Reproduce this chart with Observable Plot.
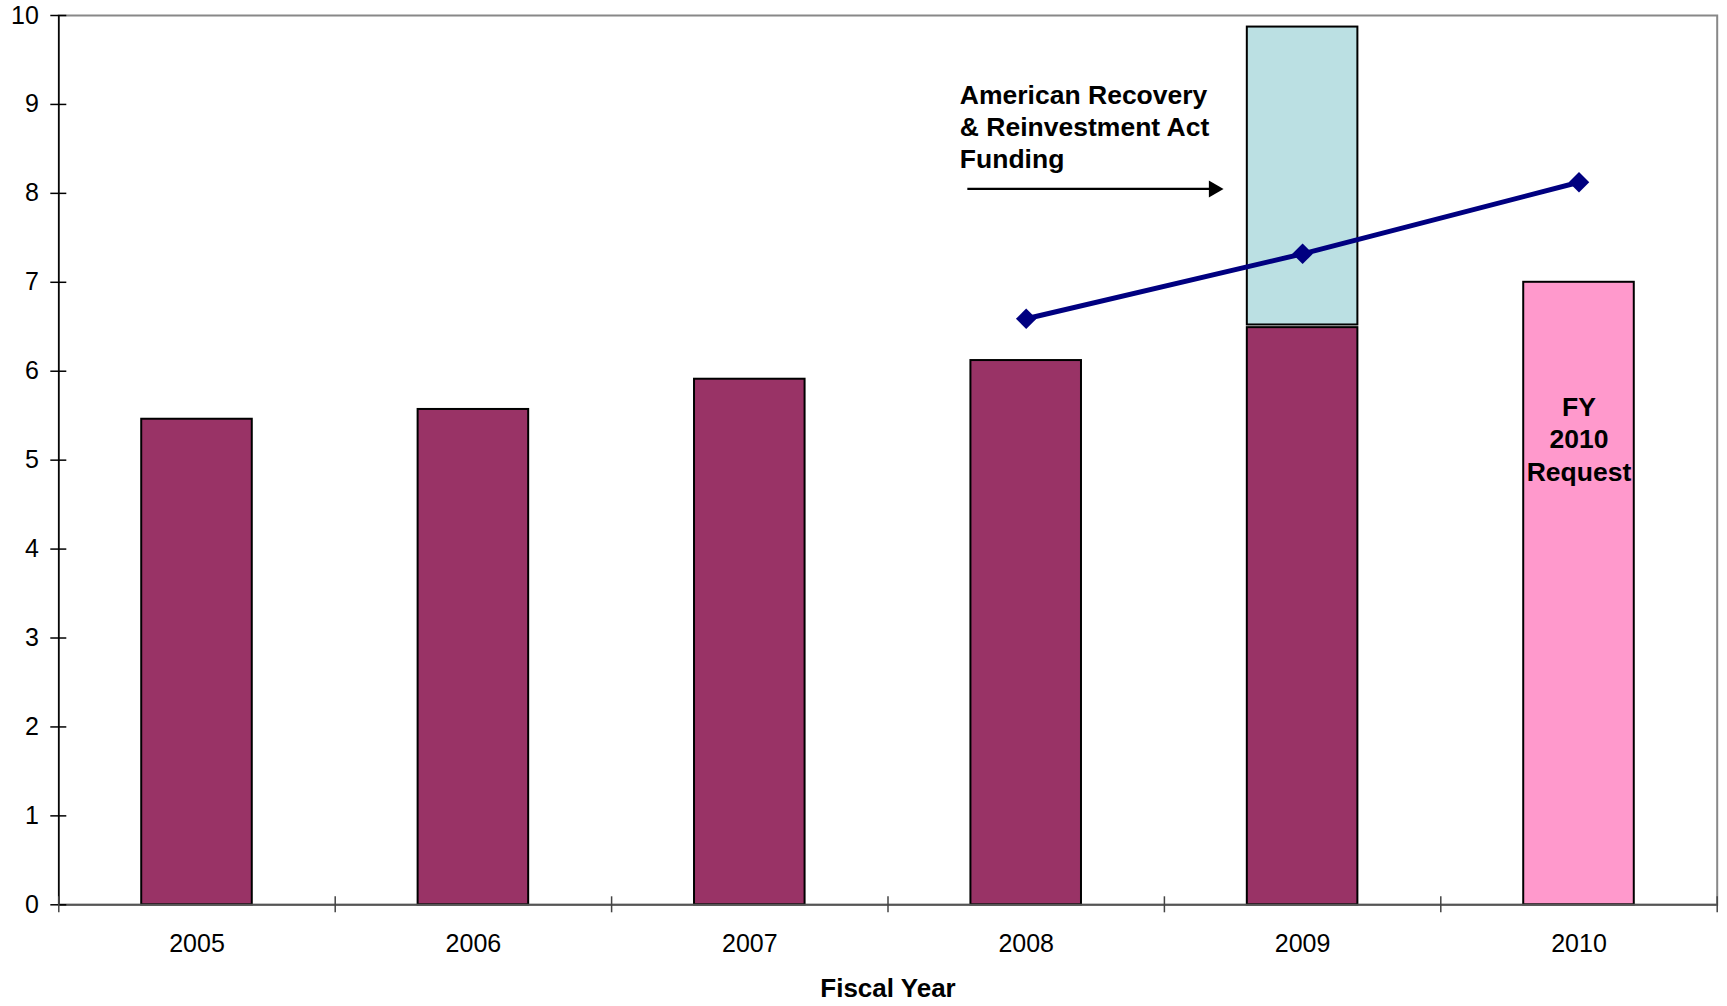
<!DOCTYPE html>
<html>
<head>
<meta charset="utf-8">
<script src="https://cdn.jsdelivr.net/npm/d3@7"></script>
<script src="https://cdn.jsdelivr.net/npm/@observablehq/plot@0.6"></script>
<style>
  html, body { margin: 0; padding: 0; background: #fff; }
  #chart svg { display: block; }
</style>
</head>
<body>
<div id="chart"></div>
<script>
// ---- data ----
const years = [2005, 2006, 2007, 2008, 2009, 2010];
const enacted = [5.46, 5.57, 5.91, 6.12, 6.49, null];
const requestYear = [2010];
const requestValue = [7.0];
const arraYear = [2009];
const arraStart = [6.52];
const arraEnd = [9.87];
const lineYears = [2008, 2009, 2010];
const lineValues = [6.59, 7.32, 8.125];
const yTicks = [0, 1, 2, 3, 4, 5, 6, 7, 8, 9, 10];
const xBoundaries = [2004.5, 2005.5, 2006.5, 2007.5, 2008.5, 2009.5, 2010.5];
const annotationText = ["American Recovery\n& Reinvestment Act\nFunding"];
const requestText = ["FY\n2010\nRequest"];
const xLabel = "Fiscal Year";

const half = 0.2;
const enactedData = years.map((y, i) => ({year: y, value: enacted[i]})).filter(d => d.value != null);
const requestData = requestYear.map((y, i) => ({year: y, value: requestValue[i]}));
const arraData = arraYear.map((y, i) => ({year: y, y1: arraStart[i], y2: arraEnd[i]}));
const lineData = lineYears.map((y, i) => ({year: y, value: lineValues[i]}));

const chart = Plot.plot({
  width: 1727,
  height: 1006,
  marginLeft: 58.3,
  marginRight: 10.3,
  marginTop: 15,
  marginBottom: 101.7,
  style: {fontFamily: "'Liberation Sans', Arial, sans-serif", fontSize: "25px", color: "#000", background: "#fff"},
  x: {domain: [2004.5, 2010.5]},
  y: {domain: [0, 10]},
  marks: [
    Plot.frame({stroke: "#888", strokeWidth: 2}),
    Plot.rectY(enactedData, {x1: d => d.year - half, x2: d => d.year + half, y1: 0, y2: "value", fill: "#993366", stroke: "#000", strokeWidth: 2}),
    Plot.rectY(arraData, {x1: d => d.year - half, x2: d => d.year + half, y1: "y1", y2: "y2", fill: "#BBE0E3", stroke: "#000", strokeWidth: 2}),
    Plot.rectY(requestData, {x1: d => d.year - half, x2: d => d.year + half, y1: 0, y2: "value", fill: "#FF99CC", stroke: "#000", strokeWidth: 2}),
    Plot.ruleY([0], {stroke: "#555", strokeWidth: 2}),
    Plot.ruleX([2004.5], {stroke: "#000", strokeWidth: 1.5}),
    Plot.ruleY(yTicks, {x1: 2004.5, x2: 2004.5, insetLeft: -8, insetRight: -8, stroke: "#000", strokeWidth: 1.5}),
    Plot.ruleX(xBoundaries, {y1: 0, y2: 0, insetTop: -8, insetBottom: -8, stroke: "#444", strokeWidth: 1.5}),
    Plot.axisY({ticks: yTicks, tickSize: 0, tickPadding: 20, tickFormat: d => String(d), label: null, fontSize: 25}),
    Plot.axisX({ticks: years, tickSize: 0, tickPadding: 29, tickFormat: d => String(d), label: null, fontSize: 25}),
    Plot.line(lineData, {x: "year", y: "value", stroke: "#000080", strokeWidth: 5}),
    Plot.dot(lineData, {x: "year", y: "value", symbol: "square", rotate: 45, r: 8.2, fill: "#000080", stroke: "none"}),
    Plot.text(annotationText, {x: 2007.76, y: 8.76, text: d => d, textAnchor: "start", lineAnchor: "middle", lineHeight: 1.22, fontSize: 26.5, fontWeight: "bold", fill: "#000"}),
    Plot.link([0], {x1: 2007.787, y1: 8.05, x2: 2008.68, y2: 8.05, stroke: "#000", strokeWidth: 2.2}),
    Plot.dot([0], {x: 2008.714, y: 8.05, dx: -9.8, symbol: "triangle", rotate: 90, r: 6.3, fill: "#000", stroke: "none"}),
    Plot.text(requestText, {x: 2010, y: 5.25, text: d => d, textAnchor: "middle", lineAnchor: "middle", lineHeight: 1.24, fontSize: 26.5, fontWeight: "bold", fill: "#000"}),
    Plot.text([xLabel], {frameAnchor: "bottom", dy: 83.4, text: d => d, lineAnchor: "middle", fontSize: 26, fontWeight: "bold", fill: "#000"})
  ]
});
document.getElementById("chart").appendChild(chart);
</script>
</body>
</html>
